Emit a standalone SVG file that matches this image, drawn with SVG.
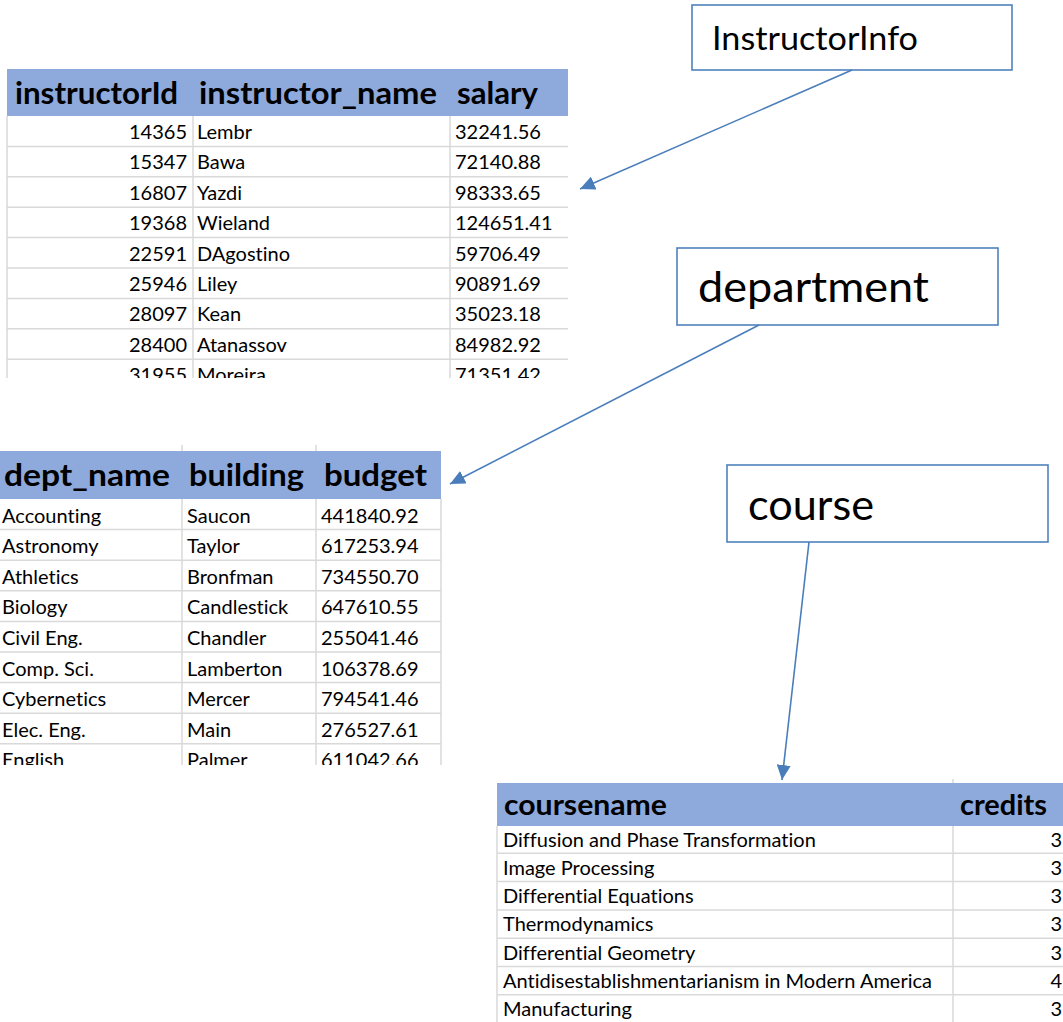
<svg xmlns="http://www.w3.org/2000/svg" width="1063" height="1022" viewBox="0 0 1063 1022">
<style>
  text { font-variant-ligatures: none; }
  .hdr { fill: #8EA9DB; }
  .grid { stroke: #D9D9D9; stroke-width: 1.5; fill: none; }
  .h { font-family: Lato, "Liberation Sans", sans-serif; font-weight: bold; fill: #000; }
  .c { font-family: Lato, "Liberation Sans", sans-serif; font-size: 20px; fill: #000; }
  .c3 { font-family: Lato, "Liberation Sans", sans-serif; font-size: 20px; fill: #000; }
  .r { text-anchor: end; }
  .box { fill: #fff; stroke: #4F81BD; stroke-width: 1.6; }
  .lbl { font-family: Lato, "Liberation Sans", sans-serif; fill: #000; }
  .conn { stroke: #4A7EBB; stroke-width: 1.6; fill: none; }
</style>
<defs>
  <marker id="arr" markerUnits="userSpaceOnUse" markerWidth="16" markerHeight="14" refX="15" refY="7" orient="auto">
    <path d="M0,0 L15,7 L0,14 z" fill="#4A7EBB"/>
  </marker>
  <clipPath id="clip1"><rect x="0" y="60" width="600" height="318"/></clipPath>
  <clipPath id="clip2"><rect x="0" y="440" width="460" height="325"/></clipPath>
</defs>

<g id="instructor-table" clip-path="url(#clip1)">
  <rect class="hdr" x="7" y="69" width="561" height="47"/>
  <g class="grid">
    <path d="M7,146.4H568 M7,176.8H568 M7,207.2H568 M7,237.6H568 M7,268H568 M7,298.4H568 M7,328.8H568 M7,359.2H568"/>
    <path d="M7,116V380 M193,116V380 M450,116V380"/>
  </g>
  <text class="h" x="15" y="104" font-size="31" textLength="163" lengthAdjust="spacingAndGlyphs">instructorId</text>
  <text class="h" x="199" y="104" font-size="31" textLength="238" lengthAdjust="spacingAndGlyphs">instructor_name</text>
  <text class="h" x="457" y="104" font-size="31" textLength="81" lengthAdjust="spacingAndGlyphs">salary</text>
  <g class="c">
    <text class="r" x="187" y="139">14365</text><text x="197" y="139">Lembr</text><text x="455" y="139">32241.56</text>
    <text class="r" x="187" y="169.4">15347</text><text x="197" y="169.4">Bawa</text><text x="455" y="169.4">72140.88</text>
    <text class="r" x="187" y="199.8">16807</text><text x="197" y="199.8">Yazdi</text><text x="455" y="199.8">98333.65</text>
    <text class="r" x="187" y="230.2">19368</text><text x="197" y="230.2">Wieland</text><text x="455" y="230.2">124651.41</text>
    <text class="r" x="187" y="260.6">22591</text><text x="197" y="260.6">DAgostino</text><text x="455" y="260.6">59706.49</text>
    <text class="r" x="187" y="291">25946</text><text x="197" y="291">Liley</text><text x="455" y="291">90891.69</text>
    <text class="r" x="187" y="321.4">28097</text><text x="197" y="321.4">Kean</text><text x="455" y="321.4">35023.18</text>
    <text class="r" x="187" y="351.8">28400</text><text x="197" y="351.8">Atanassov</text><text x="455" y="351.8">84982.92</text>
    <text class="r" x="187" y="382.2">31955</text><text x="197" y="382.2">Moreira</text><text x="455" y="382.2">71351.42</text>
  </g>
</g>

<g id="department-table" clip-path="url(#clip2)">
  <rect class="hdr" x="0" y="451" width="441" height="48"/>
  <g class="grid">
    <path d="M0,529.6H441 M0,560.2H441 M0,590.8H441 M0,621.4H441 M0,652H441 M0,682.6H441 M0,713.2H441 M0,743.8H441"/>
    <path d="M182,445V451 M316,445V451 M182,499V770 M316,499V770 M441,499V770"/>
  </g>
  <text class="h" x="4" y="486" font-size="31" textLength="166" lengthAdjust="spacingAndGlyphs">dept_name</text>
  <text class="h" x="189" y="486" font-size="31" textLength="115" lengthAdjust="spacingAndGlyphs">building</text>
  <text class="h" x="324" y="486" font-size="31" textLength="103" lengthAdjust="spacingAndGlyphs">budget</text>
  <g class="c">
    <text x="2" y="522.5">Accounting</text><text x="187" y="522.5">Saucon</text><text x="321" y="522.5">441840.92</text>
    <text x="2" y="553.1">Astronomy</text><text x="187" y="553.1">Taylor</text><text x="321" y="553.1">617253.94</text>
    <text x="2" y="583.7">Athletics</text><text x="187" y="583.7">Bronfman</text><text x="321" y="583.7">734550.70</text>
    <text x="2" y="614.3">Biology</text><text x="187" y="614.3">Candlestick</text><text x="321" y="614.3">647610.55</text>
    <text x="2" y="644.9">Civil Eng.</text><text x="187" y="644.9">Chandler</text><text x="321" y="644.9">255041.46</text>
    <text x="2" y="675.5">Comp. Sci.</text><text x="187" y="675.5">Lamberton</text><text x="321" y="675.5">106378.69</text>
    <text x="2" y="706.1">Cybernetics</text><text x="187" y="706.1">Mercer</text><text x="321" y="706.1">794541.46</text>
    <text x="2" y="736.7">Elec. Eng.</text><text x="187" y="736.7">Main</text><text x="321" y="736.7">276527.61</text>
    <text x="2" y="767.3">English</text><text x="187" y="767.3">Palmer</text><text x="321" y="767.3">611042.66</text>
  </g>
</g>

<g id="course-table">
  <rect class="hdr" x="497" y="783" width="566" height="43"/>
  <g class="grid">
    <path d="M497,853.3H1063 M497,881.6H1063 M497,909.9H1063 M497,938.2H1063 M497,966.5H1063 M497,994.8H1063"/>
    <path d="M953,779V783 M497,826V1022 M953,826V1022"/>
  </g>
  <text class="h" x="504" y="815" font-size="29" textLength="163" lengthAdjust="spacingAndGlyphs">coursename</text>
  <text class="h" x="960" y="815" font-size="29" textLength="87" lengthAdjust="spacingAndGlyphs">credits</text>
  <g class="c3">
    <text x="503" y="846.5">Diffusion and Phase Transformation</text><text class="r" x="1062" y="846.5">3</text>
    <text x="503" y="874.8">Image Processing</text><text class="r" x="1062" y="874.8">3</text>
    <text x="503" y="903.1">Differential Equations</text><text class="r" x="1062" y="903.1">3</text>
    <text x="503" y="931.4">Thermodynamics</text><text class="r" x="1062" y="931.4">3</text>
    <text x="503" y="959.7">Differential Geometry</text><text class="r" x="1062" y="959.7">3</text>
    <text x="503" y="988" textLength="429" lengthAdjust="spacingAndGlyphs">Antidisestablishmentarianism in Modern America</text><text class="r" x="1062" y="988">4</text>
    <text x="503" y="1016.3">Manufacturing</text><text class="r" x="1062" y="1016.3">3</text>
  </g>
</g>

<g id="node-instructorinfo">
  <rect class="box" x="692" y="5" width="320" height="65"/>
  <text class="lbl" x="712" y="50" font-size="33" textLength="206" lengthAdjust="spacingAndGlyphs">InstructorInfo</text>
</g>
<g id="node-department">
  <rect class="box" x="677" y="248" width="321" height="77"/>
  <text class="lbl" x="698" y="302" font-size="42" textLength="231" lengthAdjust="spacingAndGlyphs">department</text>
</g>
<g id="node-course">
  <rect class="box" x="727" y="465" width="321" height="77"/>
  <text class="lbl" x="748" y="520" font-size="42" textLength="126" lengthAdjust="spacingAndGlyphs">course</text>
</g>

<g id="connectors">
  <line class="conn" x1="852" y1="70" x2="580" y2="189" marker-end="url(#arr)"/>
  <line class="conn" x1="759" y1="325" x2="450" y2="484" marker-end="url(#arr)"/>
  <line class="conn" x1="809" y1="542" x2="782" y2="780" marker-end="url(#arr)"/>
</g>
</svg>
